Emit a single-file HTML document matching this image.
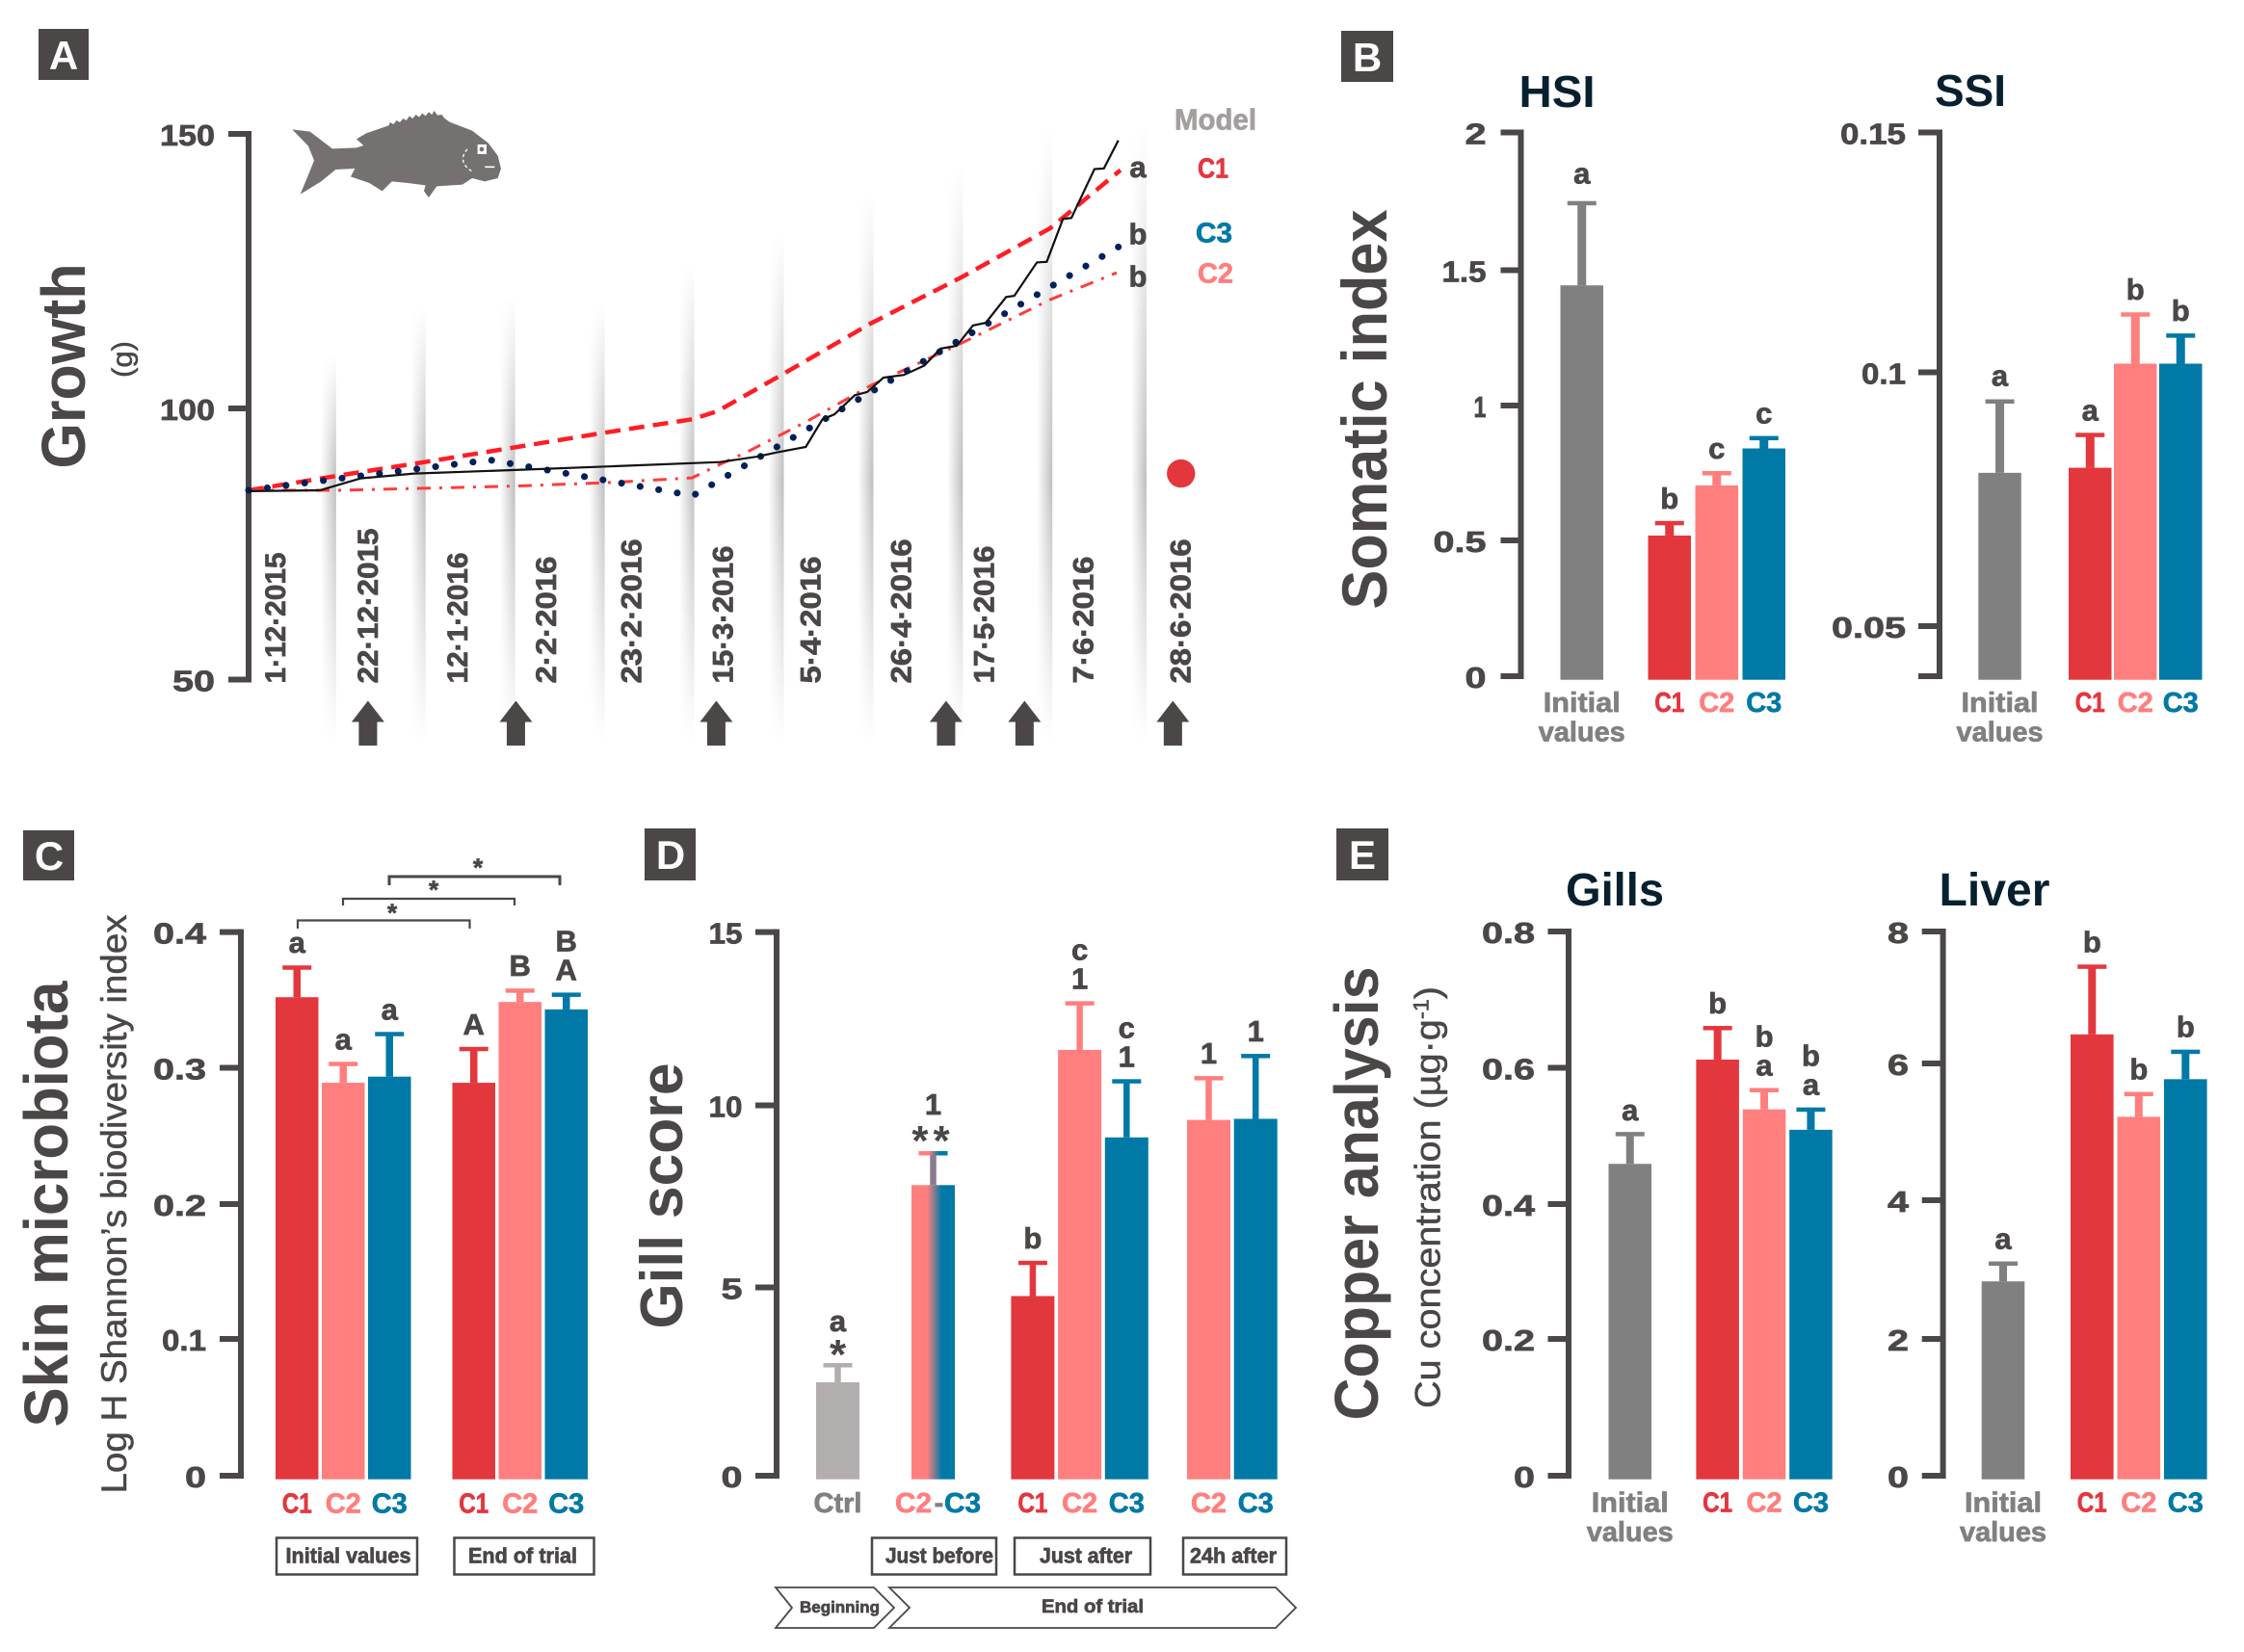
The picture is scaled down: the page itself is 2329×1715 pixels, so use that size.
<!DOCTYPE html>
<html lang="en">
<head>
<meta charset="utf-8">
<title>Growth, somatic index, skin microbiota, gill score and copper analysis</title>
<style>
html,body{margin:0;padding:0;background:#fff;}
svg{display:block;}
text{font-family:"Liberation Sans","DejaVu Sans",sans-serif;font-weight:bold;fill:#4a4746;}
</style>
</head>
<body>
<svg id="fig" xmlns="http://www.w3.org/2000/svg" width="2329" height="1715" viewBox="0 0 2329 1715">
<defs>
  <linearGradient id="band-h" x1="0" x2="1" y1="0" y2="0"><stop offset="0" stop-color="#fff"/><stop offset="1" stop-color="#bdbdbd"/></linearGradient>
  <linearGradient id="c2c3-grad" x1="0" x2="1" y1="0" y2="0"><stop offset="0.36" stop-color="#ff7f7e"/><stop offset="0.70" stop-color="#0079a6"/></linearGradient>
</defs>
<rect width="2329" height="1715" fill="#fff"/>

<!-- Panel tags -->
<g><rect x="40" y="30" width="52" height="53" fill="#4a4746"/><text x="66" y="72" text-anchor="middle" font-size="42" style="fill:#fff">A</text></g>
<g><rect x="1392" y="32" width="54" height="53" fill="#4a4746"/><text x="1419" y="74" text-anchor="middle" font-size="42" style="fill:#fff">B</text></g>
<g><rect x="24" y="862" width="53" height="52" fill="#4a4746"/><text x="51" y="903" text-anchor="middle" font-size="42" style="fill:#fff">C</text></g>
<g><rect x="669" y="860" width="53" height="54" fill="#4a4746"/><text x="696" y="902" text-anchor="middle" font-size="42" style="fill:#fff">D</text></g>
<g><rect x="1387" y="860" width="54" height="54" fill="#4a4746"/><text x="1414" y="902" text-anchor="middle" font-size="42" style="fill:#fff">E</text></g>

<!-- Panel titles -->
<text x="1576.5" y="111" font-size="46" textLength="79" lengthAdjust="spacingAndGlyphs" style="fill:#06202f">HSI</text>
<text x="2008" y="110" font-size="46" textLength="74" lengthAdjust="spacingAndGlyphs" style="fill:#06202f">SSI</text>
<text x="1625" y="940" font-size="48" textLength="102" lengthAdjust="spacingAndGlyphs" style="fill:#06202f">Gills</text>
<text x="2012.5" y="940" font-size="48" textLength="115" lengthAdjust="spacingAndGlyphs" style="fill:#06202f">Liver</text>

<!-- Axis titles -->
<text transform="translate(88,380) rotate(-90)" text-anchor="middle" font-size="64" textLength="213" lengthAdjust="spacingAndGlyphs">Growth</text>
<text transform="translate(137,373) rotate(-90)" text-anchor="middle" font-size="30" textLength="38" lengthAdjust="spacingAndGlyphs" style="font-weight:normal">(g)</text>
<text transform="translate(1439,425) rotate(-90)" text-anchor="middle" font-size="66" textLength="415" lengthAdjust="spacingAndGlyphs">Somatic index</text>
<text transform="translate(70,1250) rotate(-90)" text-anchor="middle" font-size="64" textLength="463" lengthAdjust="spacingAndGlyphs">Skin microbiota</text>
<text transform="translate(131,1250) rotate(-90)" text-anchor="middle" font-size="37" textLength="601" lengthAdjust="spacingAndGlyphs" style="font-weight:normal">Log H Shannon’s biodiversity index</text>
<text transform="translate(708,1241.5) rotate(-90)" text-anchor="middle" font-size="62" textLength="276" lengthAdjust="spacingAndGlyphs">Gill score</text>
<text transform="translate(1430,1239) rotate(-90)" text-anchor="middle" font-size="64" textLength="471" lengthAdjust="spacingAndGlyphs">Copper analysis</text>
<text transform="translate(1494.5,1243) rotate(-90)" text-anchor="middle" font-size="37" textLength="438" lengthAdjust="spacingAndGlyphs" style="font-weight:normal">Cu concentration (µg·g<tspan dy="-12" font-size="22">-1</tspan><tspan dy="12">)</tspan></text>

<!-- Fish icon -->
<g transform="translate(290,105) scale(0.3333)">
  <path fill="#757171" d="M40 88 L95 95 L165 148 L240 145 L262 138 L240 118 L270 100 L340 76 L345 66 L355 72 L365 60 L375 66 L385 54 L395 60 L405 46 L415 54 L425 42 L435 50 L445 38 L455 46 L465 34 L475 42 L482 30 L492 44 L505 42 L515 54 L530 65 L600 92 L650 130 L680 170 L690 210 L680 240 L640 250 L600 240 L570 260 L490 265 L465 300 L450 280 L455 262 L400 255 L350 250 L320 280 L280 255 L222 235 L235 210 L175 213 L130 250 L65 290 L90 230 L108 185 L90 140 Z"/>
  <rect x="617" y="135" width="28" height="30" fill="#fff"/><circle cx="630" cy="150" r="7" fill="#757171"/>
  <path d="M585 150 Q550 190 605 222" fill="none" stroke="#fff" stroke-width="4" stroke-dasharray="10 8"/>
  <path d="M640 205 H670" stroke="#fff" stroke-width="5"/>
</g>

<!-- Brackets in panel C -->
<g><path d="M309 964 V955.5 H487.5 V964" fill="none" stroke="#4a4746" stroke-width="2.2"/><text x="407" y="956.5" text-anchor="middle" font-size="26">*</text></g>
<g><path d="M356 940 V933 H534 V940" fill="none" stroke="#4a4746" stroke-width="2.2"/><text x="450" y="932.5" text-anchor="middle" font-size="26">*</text></g>
<g><path d="M404 919 V910 H581 V919" fill="none" stroke="#4a4746" stroke-width="3"/><text x="496" y="909.5" text-anchor="middle" font-size="26">*</text></g>

<!-- Group boxes -->
<g><rect x="287" y="1596.5" width="146" height="38" fill="#fff" stroke="#4a4746" stroke-width="2.5"/><text x="296.5" y="1622.5" font-size="22" textLength="130" lengthAdjust="spacingAndGlyphs">Initial values</text></g>
<g><rect x="471.5" y="1596.5" width="145" height="38" fill="#fff" stroke="#4a4746" stroke-width="2.5"/><text x="486" y="1622.5" font-size="22" textLength="113" lengthAdjust="spacingAndGlyphs">End of trial</text></g>
<g><rect x="905" y="1596.5" width="129" height="38" fill="#fff" stroke="#4a4746" stroke-width="2.5"/><text x="919" y="1622.5" font-size="22" textLength="112" lengthAdjust="spacingAndGlyphs">Just before</text></g>
<g><rect x="1053" y="1596.5" width="141" height="38" fill="#fff" stroke="#4a4746" stroke-width="2.5"/><text x="1079" y="1622.5" font-size="22" textLength="96" lengthAdjust="spacingAndGlyphs">Just after</text></g>
<g><rect x="1228" y="1596.5" width="107" height="38" fill="#fff" stroke="#4a4746" stroke-width="2.5"/><text x="1235" y="1622.5" font-size="22" textLength="90" lengthAdjust="spacingAndGlyphs">24h after</text></g>

<!-- Timeline chevrons -->
<g><polygon points="805,1648 907,1648 928,1669 907,1690 805,1690 822,1669" fill="#fff" stroke="#4a4746" stroke-width="1.8"/><text x="830" y="1674" font-size="17" textLength="83" lengthAdjust="spacingAndGlyphs">Beginning</text></g>
<g><polygon points="923,1648 1324,1648 1345,1669 1324,1690 923,1690 944,1669" fill="none" stroke="#4a4746" stroke-width="1.8"/><text x="1081" y="1674" font-size="19" textLength="106" lengthAdjust="spacingAndGlyphs">End of trial</text></g>

<g id="growth-chart"></g>

<!-- Legend for panel A (drawn above the date bands) -->
<text x="1219" y="134.5" font-size="31" textLength="85" lengthAdjust="spacingAndGlyphs" style="fill:#a59e9e">Model</text>
<text x="1243" y="184.5" font-size="29" textLength="32" lengthAdjust="spacingAndGlyphs" style="fill:#e3373e">C1</text>
<text x="1241" y="251.5" font-size="29" textLength="38" lengthAdjust="spacingAndGlyphs" style="fill:#0079a6">C3</text>
<text x="1243" y="293.5" font-size="29" textLength="37" lengthAdjust="spacingAndGlyphs" style="fill:#ff7f7e">C2</text>
<text x="1181" y="184" text-anchor="middle" font-size="31">a</text>
<text x="1181" y="253.5" text-anchor="middle" font-size="31">b</text>
<text x="1181" y="297.5" text-anchor="middle" font-size="31">b</text>

<g id="hsi-chart"></g>
<g id="ssi-chart"></g>
<g id="skin-chart"></g>
<g id="gill-chart"></g>
<g id="gills-chart"></g>
<g id="liver-chart"></g>
</svg>

<script>
// ---------- Panel A data ----------
const growthTicks = [50, 100, 150];
const growthDates = ['1·12·2015','22·12·2015','12·1·2016','2·2·2016','23·2·2016','15·3·2016','5·4·2016','26·4·2016','17·5·2016','7·6·2016','28·6·2016'];
const growthDateDays = [0, 21, 42, 63, 84, 105, 126, 147, 168, 189, 210];
const measuredDays = [0,16.7,21.5,26.3,38.8,62.7,85.7,110.6,119.2,124,130.7,134.6,137.4,142.2,145.1,148.9,153.7,158.5,162.3,166.1,169.9,172.9,177.7,179.6,184.9,187.2,191,193,198.4,200.6,204];
const measuredWeights = [84.75,84.9,86,87.1,88,88.65,89.35,90.1,91.1,91.9,92.9,98,98.9,102.4,103,105.6,106.1,107.8,110.9,111.4,115.1,115.6,120.3,120.5,126.6,126.7,134.5,134.7,143.6,143.7,148.8];
const modelC1Days = [0,21,42,63,84,104,110,125,146,167,188,204.5];
const modelC1Weights = [84.9,87.6,90.2,92.9,95.6,98,99.5,106.1,115.5,123.8,132.8,143.4];
const modelC2Days = [0,21,42,63,84,104,110.6,117,125,130.7,146,167,188,203.6];
const modelC2Weights = [84.9,84.9,85.3,85.7,86.3,87.2,89.7,92,95.2,97.5,104.2,111.8,119.8,124.7];
const modelC3Days = [0,21.6,56.6,104.2,134,204];
const modelC3Weights = [84.9,87.1,90.5,83.9,97.5,129.4];
const samplingArrowDays = [28, 62.7, 109.7, 163.6, 182, 216.8];
const finalMarkerDay = [218.7];
const finalMarkerWeight = [88];

// ---------- Panel B data ----------
const hsiCategories = ['Initial values','C1','C2','C3'];
const hsiGroups = [0,1,1,1];
const hsiTicks = [0,0.5,1,1.5,2];
const hsiValues = [1.444,0.518,0.704,0.841];
const hsiErrorTops = [1.744,0.565,0.75,0.88];
const hsiLetters = [['a'],['b'],['c'],['c']];

const ssiCategories = ['Initial values','C1','C2','C3'];
const ssiGroups = [0,1,1,1];
const ssiTicks = [0.04,0.05,0.1,0.15];
const ssiTickLabels = ['','0.05','0.1','0.15'];
const ssiValues = [0.0802,0.0812,0.1018,0.1018];
const ssiErrorTops = [0.0943,0.0877,0.1121,0.1077];
const ssiLetters = [['a'],['a'],['b'],['b']];

// ---------- Panel C data ----------
const skinCategories = ['C1','C2','C3','C1','C2','C3'];
const skinGroups = [0,0,0,1,1,1];
const skinTicks = [0,0.1,0.2,0.3,0.4];
const skinValues = [0.352,0.289,0.2935,0.289,0.3485,0.343];
const skinErrorTops = [0.374,0.303,0.325,0.314,0.357,0.354];
const skinLetters = [['a'],['a'],['a'],['A'],['B'],['A','B']];

// ---------- Panel D data ----------
const gillCategories = ['Ctrl','C2-C3','C1','C2','C3','C2','C3'];
const gillGroups = [0,1,2,2,2,3,3];
const gillTicks = [0,5,10,15];
const gillValues = [2.48,7.81,4.77,11.6,9.12,9.6,9.63];
const gillErrorTops = [2.94,8.69,5.68,12.95,10.7,10.79,11.43];
const gillLetters = [['*','a'],['**','1'],['b'],['1','c'],['1','c'],['1'],['1']];

// ---------- Panel E data ----------
const gillsCategories = ['Initial values','C1','C2','C3'];
const gillsGroups = [0,1,1,1];
const gillsTicks = [0,0.2,0.4,0.6,0.8];
const gillsValues = [0.459,0.612,0.539,0.509];
const gillsErrorTops = [0.503,0.6586,0.5675,0.539];
const gillsLetters = [['a'],['b'],['a','b'],['a','b']];

const liverCategories = ['Initial values','C1','C2','C3'];
const liverGroups = [0,1,1,1];
const liverTicks = [0,2,4,6,8];
const liverValues = [2.83,6.44,5.22,5.77];
const liverErrorTops = [3.09,7.47,5.556,6.18];
const liverLetters = [['a'],['b'],['b'],['b']];

// ---------- Helpers ----------
const NS = 'http://www.w3.org/2000/svg';
const INK = '#4a4746', RED = '#e3373e', PINK = '#ff7f7e', BLUE = '#0079a6', GREY = '#808080', SILVER = '#b3aeae';
const barColor = {'C1':RED,'C2':PINK,'C3':BLUE,'Initial values':GREY,'Ctrl':SILVER,'C2-C3':'url(#c2c3-grad)'};
const errColor = {'C1':RED,'C2':PINK,'C3':BLUE,'Initial values':GREY,'Ctrl':SILVER,'C2-C3':'#8c7a90'};
const labelColor = {'C1':RED,'C2':PINK,'C3':BLUE,'Ctrl':GREY};
const labelLen = {'C1':31,'C2':37,'C3':37,'Ctrl':50};

function make(tag, parent, attrs){
  const e = document.createElementNS(NS, tag);
  for (const k in attrs) e.setAttribute(k, attrs[k]);
  parent.appendChild(e);
  return e;
}
function makeText(parent, str, attrs, color){
  const e = make('text', parent, attrs);
  e.textContent = str;
  if (color) e.style.fill = color;
  return e;
}
// piecewise-linear axis: domain stops map onto range stops
function axisScale(domain, range){
  return function(v){
    let i = 0;
    while (i < domain.length - 2 && v > domain[i+1]) i++;
    return range[i] + (v - domain[i]) / (domain[i+1] - domain[i]) * (range[i+1] - range[i]);
  };
}
function tickWidth(s){
  let w = 0;
  for (const c of s) w += (c === '1' || c === '.') ? (c === '1' ? 13 : 11) : 22;
  return w;
}
function drawAxis(g, x, tickLeft, ticks, labels, y, labelRight){
  const top = y(ticks[ticks.length-1]), bot = y(ticks[0]);
  const line = make('line', g, {x1:x, x2:x, y1:top-3, y2:bot+3, stroke:INK, 'stroke-width':6});
  
  
  ticks.forEach(function(t, i){
    const tk = make('line', g, {x1:tickLeft, x2:x, y1:y(t), y2:y(t), stroke:INK, 'stroke-width':6});
    
    
    const s = labels[i];
    if (s === '') return;
    const lb = makeText(g, s, {x:labelRight, y:y(t)+12, 'text-anchor':'end', 'font-size':31, textLength:tickWidth(s), lengthAdjust:'spacingAndGlyphs'});
    
    
  });
}
function drawBars(p){
  const g = p.root;
  const y = axisScale(p.ticks, p.stops);
  drawAxis(g, p.axisX, p.tickLeft, p.ticks, p.tickLabels || p.ticks.map(String), y, p.labelRight);
  const floor = y(p.ticks[0]) + 3.7;
  p.categories.forEach(function(cat, i){
    const left = p.left + i * p.pitch + p.groupOffset[p.groups[i]];
    const cx = left + p.barWidth / 2;
    const top = y(p.values[i]), et = y(p.errorTops[i]);

    const stem = make('rect', g, {x:cx - p.stem/2, y:et, width:p.stem, height:top - et, fill:errColor[cat]});
    
    
    const cap = make('rect', g, {x:cx - 15, y:et - 2, width:30, height:4.5, fill:cat === 'C2-C3' ? 'url(#c2c3-grad)' : errColor[cat]});
    
    
    const bar = make('rect', g, {x:left, y:top, width:p.barWidth, height:floor - top, fill:barColor[cat]});
    
    

    // significance letters stacked above the error bar
    let base = et - (cat === 'Initial values' ? p.initialGap : 15);
    p.letters[i].forEach(function(s){
      const star = s.indexOf('*') >= 0;
      const double = s === '**';
      const attrs = {x:cx, y:star ? et + (double ? 2 : 4) : base, 'text-anchor':'middle', 'font-size':star ? 44 : 31};
      const t = makeText(g, s, attrs);
      if (double) t.style.letterSpacing = '5px';
      
      
      base = star ? et - (double ? 40 : 35) : base - 30;
    });

    // category label
    if (cat === 'Initial values'){
      const a = makeText(g, 'Initial', {x:cx, y:p.labelY, 'text-anchor':'middle', 'font-size':29, textLength:80, lengthAdjust:'spacingAndGlyphs'}, GREY);
      
      
      const b = makeText(g, 'values', {x:cx, y:p.labelY + 30.5, 'text-anchor':'middle', 'font-size':29, textLength:90, lengthAdjust:'spacingAndGlyphs'}, GREY);
      
      
    } else if (cat === 'C2-C3'){
      const a = makeText(g, 'C2', {x:cx - 1.5, y:p.labelY, 'text-anchor':'end', 'font-size':29, textLength:38, lengthAdjust:'spacingAndGlyphs'}, PINK);
      
      
      const d = makeText(g, '-', {x:cx + 6, y:p.labelY, 'text-anchor':'middle', 'font-size':29}, GREY);
      
      
      const b = makeText(g, 'C3', {x:cx + 11.5, y:p.labelY, 'font-size':29, textLength:38, lengthAdjust:'spacingAndGlyphs'}, BLUE);
      
      
    } else {
      const a = makeText(g, cat, {x:cx, y:p.labelY, 'text-anchor':'middle', 'font-size':29, textLength:labelLen[cat], lengthAdjust:'spacingAndGlyphs'}, labelColor[cat]);
      
      
    }
  });
}

// ---------- Panel A ----------
(function(){
  const g = document.getElementById('growth-chart');
  const defs = document.querySelector('defs');
  const x = function(day){ return 258 + day * 4.425; };
  const y = axisScale(growthTicks, [705.5, 424, 139]);
  const bandTop = [369, 318, 308, 313, 272, 241, 200, 169, 133, 128];
  const bandBottom = 770;
  const dateLabelNudge = [27, 30, 30, 29, 25, 27, 25, 26, 19, 29, 37];

  growthDateDays.slice(1).forEach(function(day, i){
    const right = x(day) - 2 + (i === 9 ? 4.7 : 0);
    const top = bandTop[i];
    const gradId = 'band-v-' + i, maskId = 'band-m-' + i;
    const lg = make('linearGradient', defs, {id:gradId, x1:0, x2:0, y1:0, y2:1});
    make('stop', lg, {offset:0, 'stop-color':'#000'});
    make('stop', lg, {offset:(500 - top) / (bandBottom - top), 'stop-color':'#fff'});
    make('stop', lg, {offset:1, 'stop-color':'#000'});
    const mk = make('mask', defs, {id:maskId});
    make('rect', mk, {x:right - 16, y:top, width:16, height:bandBottom - top, fill:'url(#' + gradId + ')'});
    const band = make('rect', g, {x:right - 16, y:top, width:16, height:bandBottom - top, fill:'url(#band-h)', mask:'url(#' + maskId + ')'});
    
    
  });

  drawAxis(g, 258, 237, growthTicks, growthTicks.map(String), y, 223);

  growthDates.forEach(function(label, i){
    let len = 3;
    for (const c of label) len += c === '·' ? 14 : (c === '1' ? 11 : 18);
    const bx = x(growthDateDays[i]) + dateLabelNudge[i] + 11;
    const t = makeText(g, label, {transform:'translate(' + bx + ',709.5) rotate(-90)', 'font-size':30, textLength:len, lengthAdjust:'spacingAndGlyphs'});
    
    
  });

  function path(days, vals){
    return days.map(function(d, i){ return (i ? 'L' : 'M') + x(d).toFixed(1) + ' ' + y(vals[i]).toFixed(1); }).join(' ');
  }
  const c1 = make('path', g, {d:path(modelC1Days, modelC1Weights), fill:'none', stroke:'#ff1d25', 'stroke-width':4.5, 'stroke-dasharray':'16 9'});
  
  
  const c2 = make('path', g, {d:path(modelC2Days, modelC2Weights), fill:'none', stroke:'#ff3b3b', 'stroke-width':3, 'stroke-dasharray':'14 9 3 9'});
  
  
  const c3 = make('path', g, {d:path(modelC3Days, modelC3Weights), fill:'none', stroke:'#00205b', 'stroke-width':7, 'stroke-linecap':'round'});
  
  
  // fit the dot spacing so the last dot lands on the final point of the line
  const c3Len = c3.getTotalLength();
  const c3Period = c3Len / Math.round(c3Len / 19.5);
  c3.setAttribute('stroke-dasharray', '0.1 ' + (c3Period - 0.1).toFixed(3));
  const m = make('path', g, {d:path(measuredDays, measuredWeights), fill:'none', stroke:'#111', 'stroke-width':2.2});
  
  

  const dot = make('circle', g, {cx:x(finalMarkerDay[0]), cy:y(finalMarkerWeight[0]), r:14.7, fill:RED});
  
  

  samplingArrowDays.forEach(function(day){
    const c = x(day);
    const a = make('polygon', g, {points:[[c,727.5],[c+17,749.5],[c+9.5,749.5],[c+9.5,774],[c-9.5,774],[c-9.5,749.5],[c-17,749.5]].map(String).join(' '), fill:INK});
    
    
  });
})();

// ---------- Bar panels ----------
drawBars({root:document.getElementById('hsi-chart'), categories:hsiCategories, groups:hsiGroups, ticks:hsiTicks, values:hsiValues, errorTops:hsiErrorTops, letters:hsiLetters, initialGap:20,
  stops:[702,561,421,280.5,137.5], axisX:1578.5, tickLeft:1557.5, labelRight:1542.5, left:1619.5, pitch:49, barWidth:44.5, groupOffset:[0,42], stem:9, labelY:739});
drawBars({root:document.getElementById('ssi-chart'), categories:ssiCategories, groups:ssiGroups, ticks:ssiTicks, tickLabels:ssiTickLabels, values:ssiValues, errorTops:ssiErrorTops, letters:ssiLetters, initialGap:16,
  stops:[702,650,386.5,137.5], axisX:2013, tickLeft:1991, labelRight:1978, left:2053.3, pitch:47, barWidth:44.5, groupOffset:[0,46.7], stem:9, labelY:739});
drawBars({root:document.getElementById('skin-chart'), categories:skinCategories, groups:skinGroups, ticks:skinTicks, values:skinValues, errorTops:skinErrorTops, letters:skinLetters, initialGap:15,
  stops:[1532,1390,1250,1108.5,967.6], axisX:250, tickLeft:228, labelRight:214, left:286, pitch:48, barWidth:44.5, groupOffset:[0,39.5], stem:7.5, labelY:1570.7});
drawBars({root:document.getElementById('gill-chart'), categories:gillCategories, groups:gillGroups, ticks:gillTicks, values:gillValues, errorTops:gillErrorTops, letters:gillLetters, initialGap:15,
  stops:[1532,1336.5,1147.5,967.6], axisX:806, tickLeft:784, labelRight:770.5, left:847, pitch:48.7, barWidth:45, groupOffset:[0,50.3,105,141.5], stem:6.5, labelY:1570});
drawBars({root:document.getElementById('gills-chart'), categories:gillsCategories, groups:gillsGroups, ticks:gillsTicks, values:gillsValues, errorTops:gillsErrorTops, letters:gillsLetters, initialGap:14,
  stops:[1532,1390,1250,1108.5,967], axisX:1628, tickLeft:1606.5, labelRight:1593, left:1669.5, pitch:48.4, barWidth:44.5, groupOffset:[0,42.5], stem:8, labelY:1569.5});
drawBars({root:document.getElementById('liver-chart'), categories:liverCategories, groups:liverGroups, ticks:liverTicks, values:liverValues, errorTops:liverErrorTops, letters:liverLetters, initialGap:15,
  stops:[1532,1390,1246,1104,967], axisX:2016.6, tickLeft:1994.7, labelRight:1981, left:2056.7, pitch:48.5, barWidth:44.6, groupOffset:[0,43.8], stem:8, labelY:1569.5});

// thicken small labels so their weight matches the reference
document.querySelectorAll('text').forEach(function(t){
  const size = parseFloat(t.getAttribute('font-size') || '0');
  const cs = getComputedStyle(t);
  if (size > 37) return;
  t.style.stroke = cs.fill;
  t.style.strokeWidth = cs.fontWeight === '400' ? '0.5' : '0.7';
});
</script>
</body>
</html>
